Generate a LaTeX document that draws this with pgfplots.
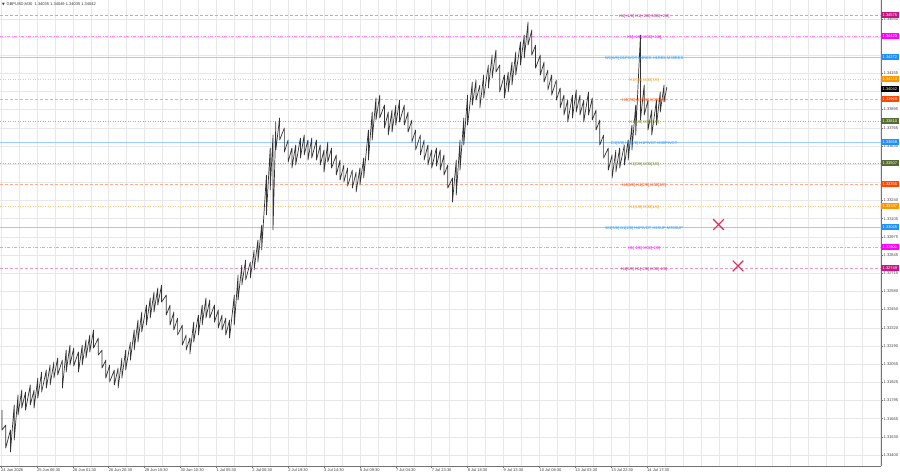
\documentclass[border=0pt]{standalone}
\usepackage{pgfplots}
\pgfplotsset{compat=1.18}
\usepackage{fontspec}
\setmainfont{Liberation Sans}
\newfontfamily\symfont{DejaVu Sans}
\definecolor{mvr}{RGB}{199,21,133}
\definecolor{mag}{RGB}{255,0,255}
\definecolor{dblue}{RGB}{30,144,255}
\definecolor{orng}{RGB}{255,150,0}
\definecolor{ored}{RGB}{255,69,0}
\definecolor{oliv}{RGB}{85,107,47}
\definecolor{olivl}{RGB}{107,142,35}
\definecolor{crim}{RGB}{230,40,80}
\newcommand\tf{\fontsize{4}{4.6}\selectfont}
\begin{document}
\begin{tikzpicture}[x=1pt,y=1pt]
\useasboundingbox (0,0) rectangle (900,474);
\fill[white] (0,0) rectangle (900,474);
\begin{axis}[
  at={(0pt,8pt)}, anchor=south west,
  width=881pt, height=466pt, scale only axis,
  xmin=-1.06, xmax=931.7,
  ymin=1.313206, ymax=1.346833,
  clip=false,
  axis x line*=bottom, axis y line*=right,
  axis line style={black!55, line width=0.6pt},
  /pgf/number format/assume math mode=true,
  xtick={0,38,...,684},
  xticklabels={24 Jun 2026,25 Jun 06:30,26 Jun 01:30,26 Jun 20:30,29 Jun 15:30,30 Jun 10:30,1 Jul 05:30,2 Jul 00:30,2 Jul 19:30,3 Jul 14:30,6 Jul 09:30,7 Jul 04:30,7 Jul 23:30,8 Jul 18:30,9 Jul 13:30,10 Jul 08:30,13 Jul 03:30,13 Jul 22:30,14 Jul 17:30},
  minor xtick={0,19,...,931},
  ytick={1.314,1.3153118,1.3166236,1.3179354,1.3192472,1.320559,1.3218708,1.3231826,1.3244944,1.3258062,1.327118,1.3284298,1.3297416,1.3310534,1.3323652,1.333677,1.3349888,1.3363006,1.3376124,1.3389242,1.340236,1.3415478,1.3428596,1.3441714,1.3454832},
  yticklabels={1.31400,1.31530,1.31665,1.31795,1.31925,1.32055,1.32190,1.32320,1.32450,1.32580,1.32715,1.32845,1.32975,1.33105,1.33240,{},{},1.33630,1.33765,1.33895,1.34025,1.34155,{},{},1.34550},
  grid=both,
  major grid style={black!9, line width=0.4pt},
  minor grid style={black!9, line width=0.4pt},
  tick align=outside,
  major tick length=2pt, minor tick length=0pt,
  tick style={black!55, line width=0.4pt},
  xticklabel style={font=\tf, text=black!75, anchor=north west, inner sep=0.5pt, xshift=-0.5pt},
  yticklabel style={font=\tf, text=black!75, anchor=west, inner sep=0.5pt, xshift=0pt},
]
% level lines
\addplot[mvr!45!white, line width=0.6pt, dash pattern=on 3pt off 2pt, forget plot] coordinates {(-1.06,1.34575) (931.7,1.34575)};
\addplot[mag!45!white, line width=0.6pt, dash pattern=on 3pt off 1.5pt on 1pt off 1.5pt, forget plot] coordinates {(-1.06,1.34423) (931.7,1.34423)};
\addplot[dblue!45!white, line width=0.7pt, forget plot] coordinates {(-1.06,1.34272) (931.7,1.34272)};
\addplot[orng!50!white, line width=0.6pt, dash pattern=on 1pt off 1.5pt, forget plot] coordinates {(-1.06,1.34113) (931.7,1.34113)};
\addplot[ored!45!white, line width=0.6pt, dash pattern=on 3pt off 2pt, forget plot] coordinates {(-1.06,1.33969) (931.7,1.33969)};
\addplot[olivl!60!white, line width=0.6pt, dash pattern=on 1pt off 1.5pt, forget plot] coordinates {(-1.06,1.33810) (931.7,1.33810)};
\addplot[dblue!45!white, line width=0.7pt, forget plot] coordinates {(-1.06,1.33658) (931.7,1.33658)};
\addplot[olivl!60!white, line width=0.6pt, dash pattern=on 1pt off 1.5pt, forget plot] coordinates {(-1.06,1.33507) (931.7,1.33507)};
\addplot[ored!45!white, line width=0.6pt, dash pattern=on 3pt off 2pt, forget plot] coordinates {(-1.06,1.33355) (931.7,1.33355)};
\addplot[orng!50!white, line width=0.6pt, dash pattern=on 1pt off 1.5pt, forget plot] coordinates {(-1.06,1.33197) (931.7,1.33197)};
\addplot[dblue!45!white, line width=0.7pt, forget plot] coordinates {(-1.06,1.33045) (931.7,1.33045)};
\addplot[mag!45!white, line width=0.6pt, dash pattern=on 3pt off 1.5pt on 1pt off 1.5pt, forget plot] coordinates {(-1.06,1.32901) (931.7,1.32901)};
\addplot[mvr!45!white, line width=0.6pt, dash pattern=on 3pt off 2pt, forget plot] coordinates {(-1.06,1.32749) (931.7,1.32749)};
% price (high/low zigzag of M30 bars)
\addplot[black!80, line width=0.7pt, line join=round] table {
x y
1 1.31724
1 1.31580
5 1.31616
5 1.31450
10 1.31580
10 1.31421
14 1.31761
14 1.31508
18 1.31833
18 1.31688
22 1.31869
22 1.31739
26 1.31854
26 1.31724
31 1.31905
31 1.31761
35 1.31869
35 1.31739
39 1.31955
39 1.31811
43 1.31999
43 1.31854
48 1.32013
48 1.31883
52 1.32049
52 1.31905
56 1.32071
56 1.31955
60 1.32100
60 1.31977
65 1.32085
65 1.31883
69 1.32157
69 1.31999
73 1.32193
73 1.32049
77 1.32172
77 1.32042
82 1.32143
82 1.31999
86 1.32193
86 1.32049
90 1.32230
90 1.32100
94 1.32266
94 1.32143
98 1.32302
98 1.32172
103 1.32244
103 1.32121
107 1.32157
107 1.32028
111 1.32085
111 1.31955
115 1.32049
115 1.31927
120 1.32013
120 1.31905
124 1.32028
124 1.31883
128 1.32100
128 1.31955
132 1.32157
132 1.32013
137 1.32215
137 1.32085
141 1.32302
141 1.32157
145 1.32374
145 1.32215
149 1.32432
149 1.32287
154 1.32482
154 1.32338
158 1.32533
158 1.32388
162 1.32576
162 1.32432
166 1.32605
166 1.32482
170 1.32626
170 1.32504
175 1.32554
175 1.32410
179 1.32482
179 1.32338
183 1.32432
183 1.32302
187 1.32388
187 1.32266
192 1.32338
192 1.32193
196 1.32266
196 1.32157
200 1.32244
200 1.32129
204 1.32359
204 1.32215
209 1.32410
209 1.32266
213 1.32482
213 1.32338
217 1.32533
217 1.32388
221 1.32518
221 1.32388
226 1.32482
226 1.32359
230 1.32446
230 1.32316
234 1.32410
234 1.32302
238 1.32388
238 1.32266
242 1.32374
242 1.32244
247 1.32554
247 1.32338
251 1.32699
251 1.32518
255 1.32771
255 1.32626
259 1.32807
259 1.32663
264 1.32792
264 1.32677
268 1.32879
268 1.32735
272 1.32951
272 1.32792
276 1.33059
276 1.32879
281 1.33420
281 1.33132
285 1.33615
285 1.33312
288 1.33709
288 1.33023
291 1.33803
291 1.33601
295 1.33832
295 1.33673
300 1.33759
300 1.33586
304 1.33673
304 1.33514
308 1.33615
308 1.33471
312 1.33637
312 1.33492
317 1.33687
317 1.33543
321 1.33709
321 1.33565
325 1.33673
325 1.33528
329 1.33687
329 1.33543
334 1.33673
334 1.33528
338 1.33637
338 1.33492
342 1.33601
342 1.33442
346 1.33658
346 1.33514
350 1.33615
350 1.33471
355 1.33565
355 1.33420
359 1.33528
359 1.33384
363 1.33492
363 1.33370
367 1.33471
367 1.33341
372 1.33456
372 1.33326
376 1.33442
376 1.33298
380 1.33471
380 1.33348
384 1.33543
384 1.33399
389 1.33745
389 1.33528
393 1.33875
393 1.33673
397 1.33976
397 1.33817
401 1.33997
401 1.33832
406 1.33925
406 1.33759
410 1.33875
410 1.33709
414 1.33889
414 1.33730
418 1.33925
418 1.33781
422 1.33961
422 1.33803
427 1.33925
427 1.33781
431 1.33875
431 1.33730
435 1.33817
435 1.33658
439 1.33745
439 1.33601
444 1.33709
444 1.33565
448 1.33673
448 1.33528
452 1.33637
452 1.33492
456 1.33601
456 1.33471
461 1.33615
461 1.33485
465 1.33601
465 1.33456
469 1.33565
469 1.33420
473 1.33492
473 1.33326
478 1.33399
478 1.33225
482 1.33528
482 1.33276
486 1.33673
486 1.33456
490 1.33832
490 1.33637
494 1.33997
494 1.33781
499 1.34091
499 1.33925
503 1.34106
503 1.33961
507 1.34070
507 1.33904
511 1.34142
511 1.33976
516 1.34214
516 1.34048
520 1.34286
520 1.34120
524 1.34322
524 1.34163
528 1.34214
528 1.34019
533 1.34142
533 1.33976
537 1.34163
537 1.34019
541 1.34236
541 1.34070
545 1.34308
545 1.34142
550 1.34380
550 1.34214
554 1.34430
554 1.34264
558 1.34524
558 1.34358
562 1.34467
562 1.34286
566 1.34358
566 1.34192
571 1.34286
571 1.34142
575 1.34236
575 1.34091
579 1.34178
579 1.34034
583 1.34142
583 1.33997
588 1.34106
588 1.33961
592 1.34048
592 1.33904
596 1.33997
596 1.33853
600 1.33961
600 1.33803
605 1.33997
605 1.33832
609 1.34034
609 1.33875
613 1.33997
613 1.33853
617 1.33961
617 1.33803
622 1.34019
622 1.33853
626 1.33976
626 1.33817
630 1.33889
630 1.33745
634 1.33817
634 1.33637
638 1.33709
638 1.33543
643 1.33615
643 1.33456
647 1.33565
647 1.33399
651 1.33601
651 1.33442
655 1.33615
655 1.33471
660 1.33637
660 1.33492
664 1.33673
664 1.33528
668 1.33781
668 1.33601
672 1.33925
672 1.33709
677 1.34430
677 1.33817
681 1.34070
681 1.33853
685 1.33961
685 1.33745
689 1.33889
689 1.33709
694 1.33961
694 1.33781
698 1.34019
698 1.33875
702 1.34070
702 1.33947
705 1.34055
705 1.34042
};
% signal crosses
\addplot[only marks, mark=x, mark size=7.5pt, crim, mark options={line width=1.1pt}] coordinates {(759.7,1.33063) (780.3,1.32764)};
% level texts
\node[font=\tf, text=mvr] at (axis cs:681,1.34564) {H4[+1/8] H1[+2/8] M30[+2/8]};
\node[font=\tf, text=mag] at (axis cs:681,1.34412) {H1[+1/8] M30[+1/8]};
\node[font=\tf, text=dblue] at (axis cs:681,1.34261) {W1[6/8] D1PIVOT H4RES H1RES M30RES};
\node[font=\tf, text=orng] at (axis cs:681,1.34102) {H1[7/8] M30[7/8]};
\node[font=\tf, text=ored] at (axis cs:681,1.33958) {H4[7/8] H1[6/8] M30[6/8]};
\node[font=\tf, text=olivl] at (axis cs:681,1.33799) {H1[5/8] M30[5/8]};
\node[font=\tf, text=dblue] at (axis cs:681,1.33647) {D1[3/8] H4[4/8] H1PIVOT M30PIVOT};
\node[font=\tf, text=olivl] at (axis cs:681,1.33496) {H1[3/8] M30[3/8]};
\node[font=\tf, text=ored] at (axis cs:681,1.33344) {H4[6/8] H1[2/8] M30[2/8]};
\node[font=\tf, text=orng] at (axis cs:681,1.33186) {H1[1/8] M30[1/8]};
\node[font=\tf, text=dblue] at (axis cs:681,1.33034) {W1[5/8] D1[2/8] H4PIVOT H1SUP M30SUP};
\node[font=\tf, text=mag] at (axis cs:681,1.32890) {H1[-1/8] M30[-1/8]};
\node[font=\tf, text=mvr] at (axis cs:681,1.32738) {H4[5/8] H1[-2/8] M30[-2/8]};
\coordinate (L1) at (axis cs:931.7,1.34575);
\coordinate (L2) at (axis cs:931.7,1.34423);
\coordinate (L3) at (axis cs:931.7,1.34272);
\coordinate (L4) at (axis cs:931.7,1.34113);
\coordinate (L5) at (axis cs:931.7,1.34042);
\coordinate (L6) at (axis cs:931.7,1.33969);
\coordinate (L7) at (axis cs:931.7,1.33810);
\coordinate (L8) at (axis cs:931.7,1.33658);
\coordinate (L9) at (axis cs:931.7,1.33507);
\coordinate (L10) at (axis cs:931.7,1.33355);
\coordinate (L11) at (axis cs:931.7,1.33197);
\coordinate (L12) at (axis cs:931.7,1.33045);
\coordinate (L13) at (axis cs:931.7,1.32901);
\coordinate (L14) at (axis cs:931.7,1.32749);
\end{axis}
\tikzset{pl/.style={anchor=west, font=\tf, text=white, inner sep=0pt, minimum width=18pt, minimum height=6.5pt, xshift=-0.3pt}}
\node[pl, fill=mvr] at (L1) {1.34575};
\node[pl, fill=mag] at (L2) {1.34423};
\node[pl, fill=dblue] at (L3) {1.34272};
\node[pl, fill=orng] at (L4) {1.34113};
\node[pl, fill=black] at (L5) {1.34042};
\node[pl, fill=ored] at (L6) {1.33969};
\node[pl, fill=oliv] at (L7) {1.33810};
\node[pl, fill=dblue] at (L8) {1.33658};
\node[pl, fill=oliv] at (L9) {1.33507};
\node[pl, fill=ored] at (L10) {1.33355};
\node[pl, fill=orng] at (L11) {1.33197};
\node[pl, fill=dblue] at (L12) {1.33045};
\node[pl, fill=mag] at (L13) {1.32901};
\node[pl, fill=mvr] at (L14) {1.32749};
\node[anchor=west, font=\tf, text=black!80, inner sep=0pt] at (2,470) {{\symfont\fontsize{3.5}{4}\selectfont ▼}\, GBPUSD,M30\ \ 1.34035 1.34049 1.34035 1.34042};
\end{tikzpicture}
\end{document}
